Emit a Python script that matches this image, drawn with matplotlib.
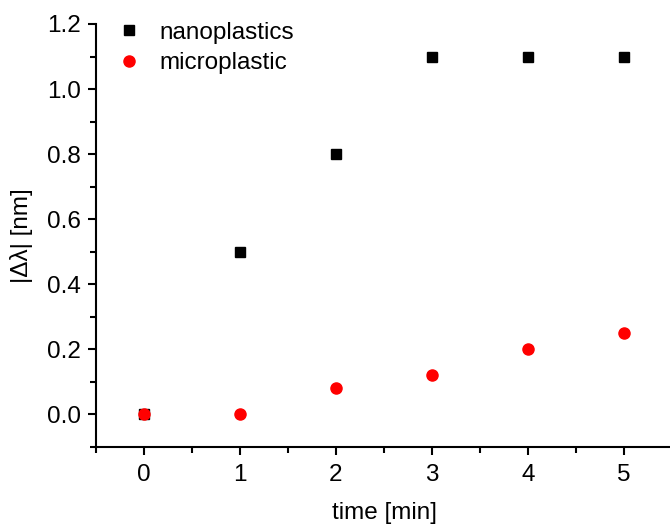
import matplotlib
matplotlib.use('Agg')
import matplotlib.pyplot as plt
from matplotlib.ticker import MultipleLocator

plt.rcParams['font.family'] = ['Liberation Sans', 'DejaVu Sans']

time_min = [0, 1, 2, 3, 4, 5]
nanoplastics = [0.0, 0.5, 0.8, 1.1, 1.1, 1.1]
microplastic = [0.0, 0.0, 0.08, 0.12, 0.2, 0.25]

fig = plt.figure(figsize=(6.7, 5.26), dpi=100)
ax = fig.add_axes([96 / 670, 79 / 526, 576 / 670, 423 / 526])

ax.plot(time_min, nanoplastics, 's', color='black', markersize=7,
        label='nanoplastics', clip_on=False)
ax.plot(time_min, microplastic, 'o', color='red', markersize=8,
        label='microplastic', clip_on=False)

ax.set_xlim(-0.5, 5.5)
ax.set_ylim(-0.1, 1.2)
ax.xaxis.set_major_locator(MultipleLocator(1))
ax.xaxis.set_minor_locator(MultipleLocator(0.5))
ax.yaxis.set_major_locator(MultipleLocator(0.2))
ax.yaxis.set_minor_locator(MultipleLocator(0.1))
ax.yaxis.set_major_formatter(plt.FormatStrFormatter('%.1f'))

for side in ('top', 'right'):
    ax.spines[side].set_visible(False)
for side in ('left', 'bottom'):
    ax.spines[side].set_linewidth(1.5)

ax.tick_params(which='major', direction='out', length=6, width=1.5,
               labelsize=17.5)
ax.tick_params(axis='y', which='major', pad=5)
ax.tick_params(axis='x', which='major', pad=6)
ax.tick_params(which='minor', direction='out', length=4, width=1.5)

ax.set_xlabel('time [min]', fontsize=17.5, labelpad=12)
ax.set_ylabel('|Δλ| [nm]', fontsize=17.5, labelpad=10)

ax.legend(loc='upper left', frameon=False, fontsize=17.5, handletextpad=0.5,
          borderaxespad=0.2, bbox_to_anchor=(0.0, 1.04), labelspacing=0.35,
          handlelength=1.5)

fig.savefig('out.png', dpi=100)
